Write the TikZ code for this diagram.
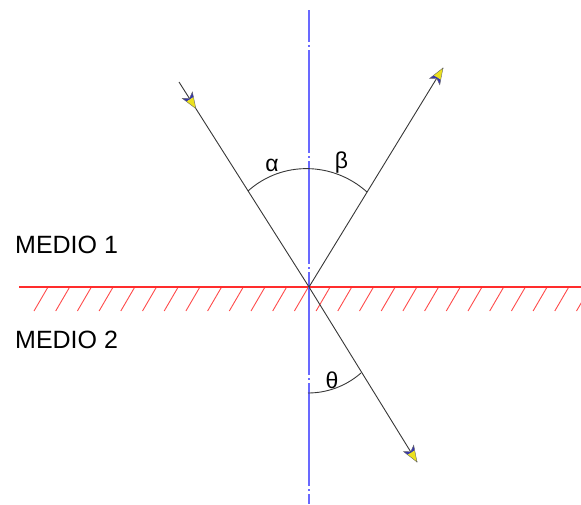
\documentclass[tikz,border=0pt]{standalone}
\usepackage{fontspec}
\setmainfont{Liberation Sans}
\usetikzlibrary{decorations.markings}
\definecolor{axisblue}{RGB}{105,105,255}
\definecolor{ifred}{RGB}{255,45,45}
\definecolor{hatchred}{RGB}{255,75,75}
\definecolor{raygray}{RGB}{55,55,55}
\definecolor{tipblue}{RGB}{55,55,170}
\definecolor{tipyellow}{RGB}{235,225,30}
\tikzset{
  tipat/.style={postaction={decorate}, decoration={markings, mark=at position #1 with {
     \fill[tipblue] (-16,-6) -- (-11,-4.1) -- (-11,4.1) -- (-16,6) -- (-12,0) -- cycle;
     \fill[tipyellow] (-11,-4.1) -- (0,0) -- (-11,4.1) -- cycle;
     \draw[black!60, line width=0.4pt] (0,0) -- (-16,6) -- (-12,0) -- (-16,-6) -- cycle;}}},
  ray/.style={draw=raygray, line width=0.9pt},
  anglearc/.style={draw=raygray, line width=0.9pt},
  axisline/.style={draw=axisblue, line width=1.7pt, dash pattern=on 103pt off 3pt on 2pt off 3pt, dash phase=71pt},
  interface/.style={draw=ifred, line width=1.6pt},
  hatchline/.style={draw=hatchred, line width=0.9pt},
  medio/.style={inner sep=0pt, anchor=base west, font=\fontsize{25}{30}\selectfont},
  greek/.style={inner sep=0pt, font=\fontsize{23}{28}\selectfont}
}
\begin{document}
\begin{tikzpicture}[x=1pt,y=-1pt]
\useasboundingbox (0,0) rectangle (581,504);
% key points
\coordinate (O) at (309,287);
\coordinate (Itop) at (309,10);
\coordinate (Ibot) at (309,504);
\coordinate (Lend) at (19,287);
\coordinate (Rend) at (581,287);
\coordinate (Inc) at (179,82);
\coordinate (Refl) at (443,68);
\coordinate (Refr) at (417,462);
% hatching
\begin{scope}
  \clip (0,280) rectangle (581,320);
  \foreach \k in {0,...,25}
    \draw[hatchline] ({48+21.7*\k},287) -- ({34+21.7*\k},311);
\end{scope}
% interface
\draw[interface] (Lend) -- (Rend);
% normal (axis)
\draw[axisline] (Itop) -- (Ibot);
% rays
\draw[ray, tipat=0.13] (Inc) -- (O);
\draw[ray, tipat=1] (O) -- (Refl);
\draw[ray, tipat=1] (O) -- (Refr);
% angle arcs
\coordinate (A1) at (248,191);
\coordinate (A2) at (367,192);
\draw[anglearc] (A1) .. controls (282,160.5) and (333,161.5) .. (A2);
\coordinate (B1) at (308,393);
\coordinate (B2) at (361,373);
\draw[anglearc] (B1) .. controls (327.5,393) and (346.3,385.9) .. (B2);
% labels
\node[greek] (alpha) at (272,165) {α};
\node[greek] (beta) at (341.5,163) {β};
\node[greek] (theta) at (332,380) {θ};
\node[medio] (m1) at (15,253) {MEDIO 1};
\node[medio] (m2) at (15,348) {MEDIO 2};
\end{tikzpicture}
\end{document}
